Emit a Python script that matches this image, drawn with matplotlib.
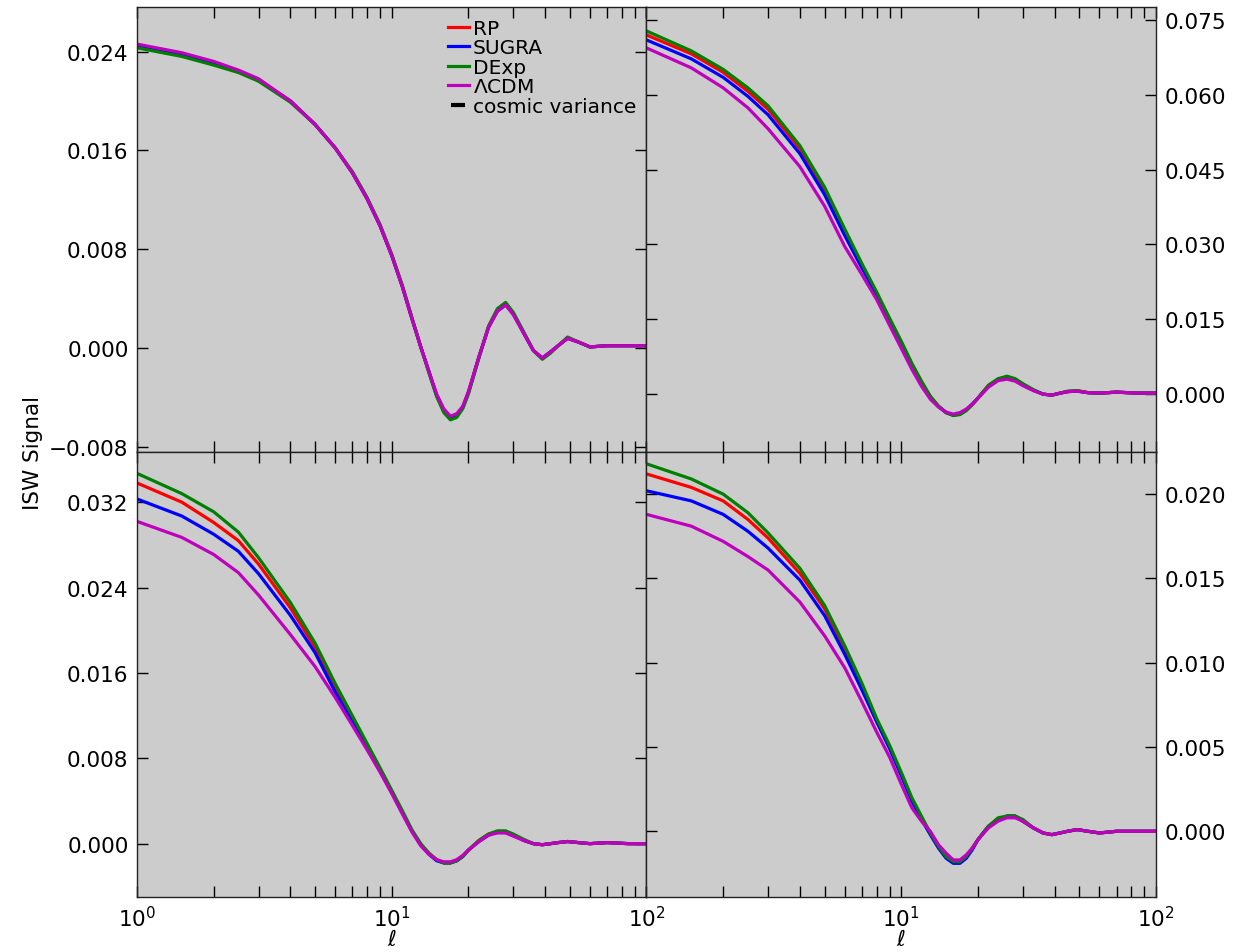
import matplotlib
matplotlib.use('Agg')
import matplotlib.pyplot as plt
from matplotlib.lines import Line2D
from matplotlib.ticker import LogLocator, NullFormatter

# multipoles
ell = [1, 1.5, 2, 2.5, 3, 4, 5, 6, 7, 8, 9, 10, 11, 12, 13, 14, 15, 16, 17, 18, 19, 20,
       22, 24, 26, 28, 30, 33, 36, 39, 42, 45, 49, 54, 60, 70, 85, 100]

# top left panel
tl_rp = [0.0245, 0.0238, 0.0231, 0.0224, 0.0217, 0.0200, 0.0181, 0.0162, 0.0142, 0.0121, 0.0099, 0.0075,
         0.0050, 0.0024, 0.0001, -0.0019, -0.0038, -0.0050, -0.0056, -0.0054, -0.0048, -0.0036,
         -0.0007, 0.0017, 0.0031, 0.0036, 0.0028, 0.0012, -0.0002, -0.0008, -0.0003, 0.0002, 0.0008,
         0.0005, 0.0001, 0.0002, 0.0002, 0.0002]
tl_sugra = [0.0245, 0.0238, 0.0231, 0.0224, 0.0217, 0.0200, 0.0181, 0.0162, 0.0142, 0.0121, 0.0099, 0.0075,
            0.0050, 0.0024, 0.0001, -0.0019, -0.0038, -0.0050, -0.0056, -0.0054, -0.0048, -0.0036,
            -0.0007, 0.0017, 0.0030, 0.0035, 0.0028, 0.0012, -0.0002, -0.0008, -0.0003, 0.0002, 0.0008,
            0.0005, 0.0001, 0.0002, 0.0002, 0.0002]
tl_dexp = [0.0243, 0.0236, 0.0229, 0.0223, 0.0216, 0.0199, 0.0181, 0.0162, 0.0143, 0.0122, 0.0100, 0.0076,
           0.0051, 0.0025, 0.0001, -0.0020, -0.0039, -0.0052, -0.0058, -0.0056, -0.0049, -0.0037,
           -0.0008, 0.0018, 0.0032, 0.0037, 0.0029, 0.0013, -0.0002, -0.0009, -0.0004, 0.0002, 0.0009,
           0.0005, 0.0001, 0.0002, 0.0002, 0.0002]
tl_lcdm = [0.0246, 0.0239, 0.0232, 0.0225, 0.0218, 0.0200, 0.0181, 0.0162, 0.0142, 0.0121, 0.0099, 0.0075,
           0.0050, 0.0024, 0.0001, -0.0019, -0.0037, -0.0049, -0.0055, -0.0053, -0.0047, -0.0035,
           -0.0007, 0.0017, 0.0030, 0.0035, 0.0027, 0.0012, -0.0002, -0.0008, -0.0003, 0.0002, 0.0008,
           0.0005, 0.0001, 0.0002, 0.0002, 0.0002]

# top right panel
tr_rp = [0.0720, 0.0682, 0.0645, 0.0607, 0.0571, 0.0492, 0.0410, 0.0327, 0.0259, 0.0203, 0.0150, 0.0104,
         0.0060, 0.0025, -0.0005, -0.0024, -0.0037, -0.0042, -0.0040, -0.0032, -0.0021, -0.0008,
         0.0017, 0.0030, 0.0034, 0.0030, 0.0020, 0.0008, 0.0000, -0.0002, 0.0002, 0.0005, 0.0007,
         0.0003, 0.0002, 0.0004, 0.0002, 0.0002]
tr_sugra = [0.0710, 0.0672, 0.0635, 0.0597, 0.0560, 0.0482, 0.0400, 0.0318, 0.0253, 0.0199, 0.0147, 0.0101,
            0.0058, 0.0023, -0.0006, -0.0025, -0.0037, -0.0042, -0.0039, -0.0031, -0.0020, -0.0008,
            0.0016, 0.0029, 0.0032, 0.0028, 0.0019, 0.0008, 0.0000, -0.0002, 0.0002, 0.0005, 0.0006,
            0.0003, 0.0002, 0.0004, 0.0002, 0.0002]
tr_dexp = [0.0728, 0.0688, 0.0651, 0.0614, 0.0578, 0.0498, 0.0415, 0.0331, 0.0262, 0.0205, 0.0152, 0.0106,
           0.0062, 0.0026, -0.0004, -0.0024, -0.0037, -0.0043, -0.0041, -0.0033, -0.0021, -0.0008,
           0.0018, 0.0031, 0.0036, 0.0031, 0.0021, 0.0009, 0.0000, -0.0002, 0.0002, 0.0006, 0.0007,
           0.0003, 0.0002, 0.0004, 0.0002, 0.0002]
tr_lcdm = [0.0694, 0.0654, 0.0614, 0.0574, 0.0532, 0.0456, 0.0377, 0.0296, 0.0240, 0.0190, 0.0138, 0.0092,
           0.0050, 0.0016, -0.0010, -0.0026, -0.0036, -0.0040, -0.0037, -0.0030, -0.0020, -0.0008,
           0.0014, 0.0027, 0.0030, 0.0026, 0.0017, 0.0007, 0.0000, -0.0002, 0.0002, 0.0005, 0.0006,
           0.0003, 0.0002, 0.0004, 0.0002, 0.0002]

# bottom left panel
bl_rp = [0.0338, 0.0320, 0.0301, 0.0284, 0.0262, 0.0221, 0.0184, 0.0147, 0.0118, 0.0092, 0.0070, 0.0049,
         0.0030, 0.0012, -0.0001, -0.0009, -0.0015, -0.0018, -0.0018, -0.0016, -0.0012, -0.0006,
         0.0003, 0.0009, 0.0011, 0.0011, 0.0008, 0.0003, 0.0000, -0.0001, 0.0000, 0.0001, 0.0002,
         0.0001, 0.0000, 0.0001, 0.0000, 0.0000]
bl_sugra = [0.0323, 0.0307, 0.0290, 0.0274, 0.0253, 0.0214, 0.0179, 0.0142, 0.0114, 0.0090, 0.0068, 0.0048,
            0.0029, 0.0012, -0.0001, -0.0010, -0.0016, -0.0018, -0.0018, -0.0016, -0.0012, -0.0006,
            0.0002, 0.0008, 0.0011, 0.0011, 0.0008, 0.0003, 0.0000, -0.0001, 0.0000, 0.0001, 0.0002,
            0.0001, 0.0000, 0.0001, 0.0000, 0.0000]
bl_dexp = [0.0347, 0.0328, 0.0311, 0.0292, 0.0268, 0.0226, 0.0188, 0.0150, 0.0120, 0.0094, 0.0071, 0.0050,
           0.0031, 0.0013, 0.0000, -0.0009, -0.0015, -0.0018, -0.0018, -0.0016, -0.0012, -0.0006,
           0.0003, 0.0009, 0.0012, 0.0012, 0.0009, 0.0004, 0.0000, -0.0001, 0.0000, 0.0001, 0.0002,
           0.0001, 0.0000, 0.0001, 0.0000, 0.0000]
bl_lcdm = [0.0302, 0.0287, 0.0271, 0.0254, 0.0233, 0.0196, 0.0166, 0.0137, 0.0111, 0.0088, 0.0067, 0.0047,
           0.0028, 0.0011, -0.0002, -0.0010, -0.0015, -0.0017, -0.0017, -0.0015, -0.0011, -0.0006,
           0.0002, 0.0008, 0.0010, 0.0010, 0.0007, 0.0003, 0.0000, -0.0001, 0.0000, 0.0001, 0.0002,
           0.0001, 0.0000, 0.0001, 0.0000, 0.0000]

# bottom right panel
br_rp = [0.0212, 0.0204, 0.0196, 0.0185, 0.0174, 0.0153, 0.0132, 0.0108, 0.0086, 0.0066, 0.0050, 0.0034,
         0.0019, 0.0008, -0.0001, -0.0009, -0.0015, -0.0018, -0.0018, -0.0015, -0.0010, -0.0005,
         0.0003, 0.0007, 0.0009, 0.0009, 0.0006, 0.0002, -0.0001, -0.0002, -0.0001, 0.0000, 0.0001,
         0.0000, -0.0001, 0.0000, 0.0000, 0.0000]
br_sugra = [0.0202, 0.0196, 0.0188, 0.0178, 0.0168, 0.0149, 0.0128, 0.0105, 0.0084, 0.0065, 0.0049, 0.0033,
            0.0018, 0.0007, -0.0002, -0.0010, -0.0016, -0.0019, -0.0019, -0.0016, -0.0011, -0.0005,
            0.0003, 0.0007, 0.0009, 0.0009, 0.0006, 0.0002, -0.0001, -0.0002, -0.0001, 0.0000, 0.0001,
            0.0000, -0.0001, 0.0000, 0.0000, 0.0000]
br_dexp = [0.0218, 0.0209, 0.0200, 0.0189, 0.0177, 0.0156, 0.0134, 0.0110, 0.0088, 0.0067, 0.0051, 0.0035,
           0.0020, 0.0009, -0.0001, -0.0009, -0.0015, -0.0018, -0.0018, -0.0015, -0.0010, -0.0005,
           0.0003, 0.0008, 0.0009, 0.0009, 0.0007, 0.0002, -0.0001, -0.0002, -0.0001, 0.0000, 0.0001,
           0.0000, -0.0001, 0.0000, 0.0000, 0.0000]
br_lcdm = [0.0188, 0.0181, 0.0172, 0.0163, 0.0155, 0.0136, 0.0116, 0.0097, 0.0077, 0.0059, 0.0044, 0.0028,
           0.0014, 0.0006, 0.0000, -0.0008, -0.0013, -0.0017, -0.0017, -0.0014, -0.0010, -0.0005,
           0.0002, 0.0006, 0.0008, 0.0008, 0.0006, 0.0002, -0.0001, -0.0002, -0.0001, 0.0000, 0.0001,
           0.0000, -0.0001, 0.0000, 0.0000, 0.0000]

models = ['RP', 'SUGRA', 'DExp', r'$\Lambda$CDM']
colors = ['red', 'blue', 'green', 'm']

panels = [
    ([tl_rp, tl_sugra, tl_dexp, tl_lcdm], (-0.0084, 0.0276), [-0.008, 0.0, 0.008, 0.016, 0.024]),
    ([tr_rp, tr_sugra, tr_dexp, tr_lcdm], (-0.0116, 0.0776), [0.0, 0.015, 0.030, 0.045, 0.060, 0.075]),
    ([bl_rp, bl_sugra, bl_dexp, bl_lcdm], (-0.0050, 0.0367), [0.0, 0.008, 0.016, 0.024, 0.032]),
    ([br_rp, br_sugra, br_dexp, br_lcdm], (-0.0039, 0.0225), [0.0, 0.005, 0.010, 0.015, 0.020]),
]


def fmt(t):
    s = '%.3f' % abs(t)
    return '\u2212' + s if t < -1e-9 else s


fs = 15.5
fig, axes = plt.subplots(2, 2, figsize=(12.53, 9.53), dpi=100)
fig.subplots_adjust(left=0.1093, right=0.9226, top=0.9916, bottom=0.0577, hspace=0, wspace=0)

for i, ax in enumerate(axes.flat):
    series, ylim, yticks = panels[i]
    ax.set_facecolor('#cccccc')
    for vals, c, lab in zip(series, colors, models):
        ax.plot(ell, vals, color=c, lw=2.3, label=lab)
    ax.set_xscale('log')
    ax.set_xlim(1, 100)
    ax.set_ylim(*ylim)
    ax.set_yticks(yticks)
    ax.set_yticklabels([fmt(t) for t in yticks])
    ax.xaxis.set_minor_locator(LogLocator(base=10, subs=range(2, 10)))
    ax.xaxis.set_minor_formatter(NullFormatter())
    ax.tick_params(which='both', direction='in', top=True, bottom=True, left=True, right=True,
                   length=8, width=1, labelsize=fs, pad=6)
    for s in ax.spines.values():
        s.set_color('#222222')
        s.set_linewidth(1.0)
    if i % 2 == 1:
        ax.yaxis.tick_right()
        ax.tick_params(which='both', left=True, right=True)
    if i < 2:
        ax.set_xticklabels([])
    else:
        ax.set_xlabel(r'$\ell$', fontsize=fs, labelpad=-1)
    if i == 3:
        ax.set_xticks([1, 10, 100])
        ax.set_xticklabels(['', r'$10^1$', r'$10^2$'])

# legend in the first panel
h, l = axes[0, 0].get_legend_handles_labels()
h.append(Line2D([], [], color='k', marker='_', ls='none', markersize=10, mew=3))
l.append('cosmic variance')
axes[0, 0].legend(h, l, loc='upper right', bbox_to_anchor=(1.003, 1.0), frameon=False, fontsize=14.5,
                  handlelength=1.0, handletextpad=0.2, labelspacing=0.02, borderaxespad=0.2)

fig.text(0.026, 0.525, 'ISW Signal', rotation=90, va='center', ha='center', fontsize=fs)

plt.savefig('out.png', dpi=100)
